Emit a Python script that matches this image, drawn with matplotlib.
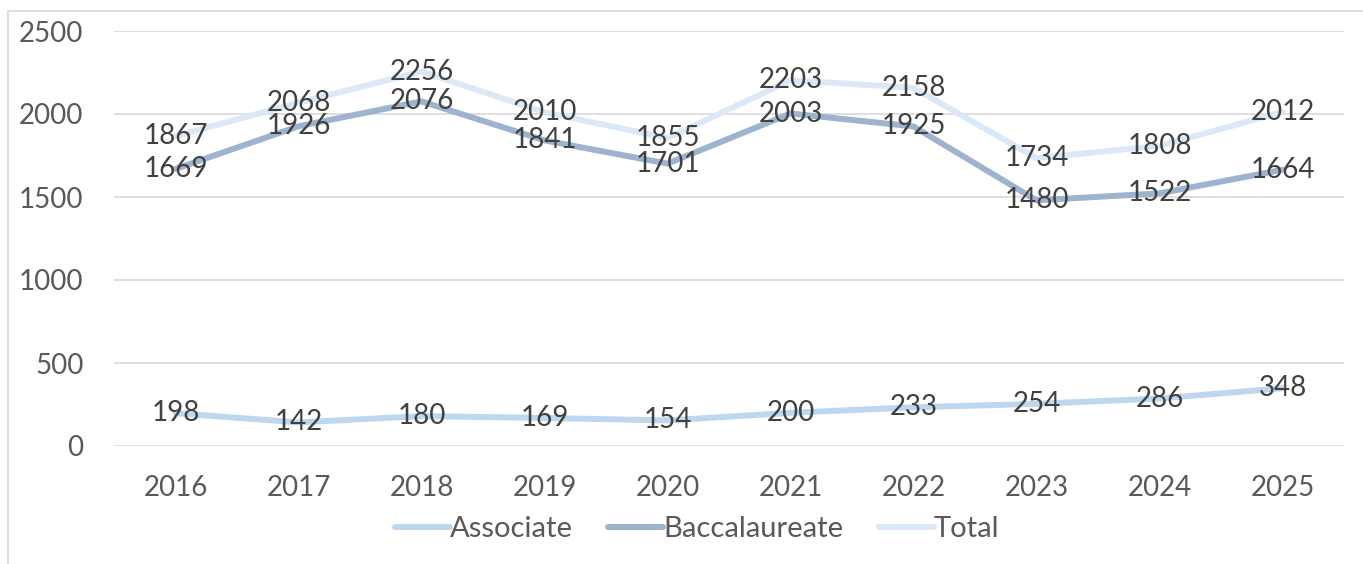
import matplotlib.pyplot as plt
from matplotlib.patches import Rectangle

years = ['2016', '2017', '2018', '2019', '2020', '2021', '2022', '2023', '2024', '2025']
associate = [198, 142, 180, 169, 154, 200, 233, 254, 286, 348]
baccalaureate = [1669, 1926, 2076, 1841, 1701, 2003, 1925, 1480, 1522, 1664]
total = [1867, 2068, 2256, 2010, 1855, 2203, 2158, 1734, 1808, 2012]

plt.rcParams['font.family'] = ['Lato', 'DejaVu Sans']

W, H = 1363, 564
fig = plt.figure(figsize=(W / 100, H / 100), dpi=100)
ax = fig.add_axes([114 / W, 1 - 446 / H, (1344 - 114) / W, (446 - 31) / H])

x = list(range(len(years)))
series = [
    ('Associate', associate, '#BDD7EE'),
    ('Baccalaureate', baccalaureate, '#9DB3CE'),
    ('Total', total, '#DAE8F8'),
]
for name, vals, col in series:
    ax.plot(x, vals, color=col, linewidth=4.3, label=name, solid_capstyle='round', zorder=2)
for name, vals, col in series:
    for xi, v in zip(x, vals):
        ax.text(xi, v, str(v), ha='center', va='center', fontsize=20, color='#404040', zorder=3)

ax.set_xlim(-0.5, len(years) - 0.5)
ax.set_ylim(0, 2500)
ax.set_yticks(range(0, 2501, 500))
ax.set_xticks(x)
ax.set_xticklabels(years)
ax.tick_params(length=0, labelsize=20, labelcolor='#595959')
ax.tick_params(axis='y', pad=22)
ax.tick_params(axis='x', pad=21)
ax.grid(axis='y', color='#D9D9D9', linewidth=1.2)
ax.set_axisbelow(True)
for s in ax.spines.values():
    s.set_visible(False)

leg = ax.legend(loc='upper center', bbox_to_anchor=(0.474, -0.105), ncol=3, frameon=False,
                fontsize=21, labelcolor='#595959', handlelength=1.9, handletextpad=0.0,
                columnspacing=1.2)

# outer chart border (partly cropped)
fig.patches.append(Rectangle((8 / W, -0.1), 1.2, 1.1 - 11 / H, transform=fig.transFigure,
                             fill=False, edgecolor='#D9D9D9', linewidth=1.2))

fig.savefig('out.png', dpi=100)
